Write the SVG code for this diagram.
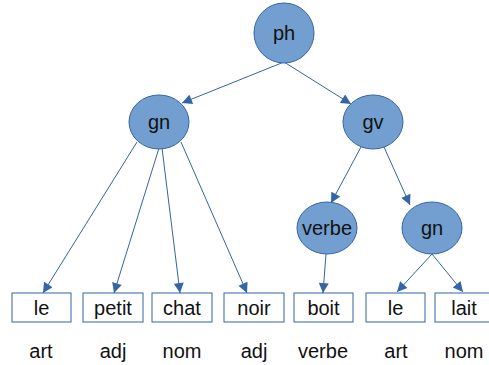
<svg xmlns="http://www.w3.org/2000/svg" width="489" height="365" viewBox="0 0 489 365">
<defs>
<marker id="ah" viewBox="0 0 10 10" refX="10" refY="5" markerWidth="12" markerHeight="10" markerUnits="userSpaceOnUse" orient="auto">
<path d="M0,0 L10,5 L0,10 Z" fill="#3465a4"/>
</marker>
<style>
.n ellipse{fill:#729fcf;stroke:#3465a4;stroke-width:1}
.b rect{fill:#fff;stroke:#3465a4;stroke-width:1}
text{font-family:"Liberation Sans",Arial,sans-serif;font-size:20px;fill:#111;text-anchor:middle}
.c line{stroke:#3465a4;stroke-width:1;marker-end:url(#ah)}
</style>
</defs>
<rect width="489" height="365" fill="#fff"/>
<g class="c" id="connectors">
<line x1="284" y1="62" x2="182" y2="103"/>
<line x1="284" y1="62" x2="351" y2="104"/>
<line x1="137" y1="142" x2="43" y2="293"/>
<line x1="159" y1="148" x2="114" y2="293"/>
<line x1="162" y1="148" x2="180" y2="293"/>
<line x1="181" y1="142" x2="247" y2="293"/>
<line x1="361" y1="147" x2="331" y2="203"/>
<line x1="384" y1="147" x2="410" y2="205"/>
<line x1="326" y1="254" x2="323" y2="293"/>
<line x1="432" y1="254" x2="397" y2="292"/>
<line x1="432" y1="254" x2="463" y2="292"/>
</g>
<g class="n" id="ph"><ellipse cx="284" cy="33" rx="30" ry="30"/><text x="284" y="40">ph</text></g>
<g class="n" id="gn1"><ellipse cx="159" cy="122" rx="30" ry="27"/><text x="159" y="129">gn</text></g>
<g class="n" id="gv"><ellipse cx="373" cy="122" rx="30" ry="27"/><text x="373" y="129">gv</text></g>
<g class="n" id="verbe"><ellipse cx="327" cy="228" rx="30" ry="26"/><text x="327" y="235">verbe</text></g>
<g class="n" id="gn2"><ellipse cx="432" cy="228" rx="30" ry="26"/><text x="432" y="235">gn</text></g>
<g class="b" id="le1"><rect x="12" y="293" width="59" height="29"/><text x="41.5" y="315">le</text></g>
<g class="b" id="petit"><rect x="83" y="293" width="60" height="29"/><text x="113" y="315">petit</text></g>
<g class="b" id="chat"><rect x="152" y="293" width="60" height="29"/><text x="182" y="315">chat</text></g>
<g class="b" id="noir"><rect x="224" y="293" width="60" height="29"/><text x="254" y="315">noir</text></g>
<g class="b" id="boit"><rect x="294" y="293" width="59" height="29"/><text x="323.5" y="315">boit</text></g>
<g class="b" id="le2"><rect x="366" y="293" width="59" height="29"/><text x="395.5" y="315">le</text></g>
<g class="b" id="lait"><rect x="435" y="293" width="59" height="29"/><text x="464" y="315">lait</text></g>
<g id="labels">
<text x="41" y="358">art</text>
<text x="113" y="358">adj</text>
<text x="182" y="358">nom</text>
<text x="254" y="358">adj</text>
<text x="323" y="358">verbe</text>
<text x="396" y="358">art</text>
<text x="464" y="358">nom</text>
</g>
</svg>
